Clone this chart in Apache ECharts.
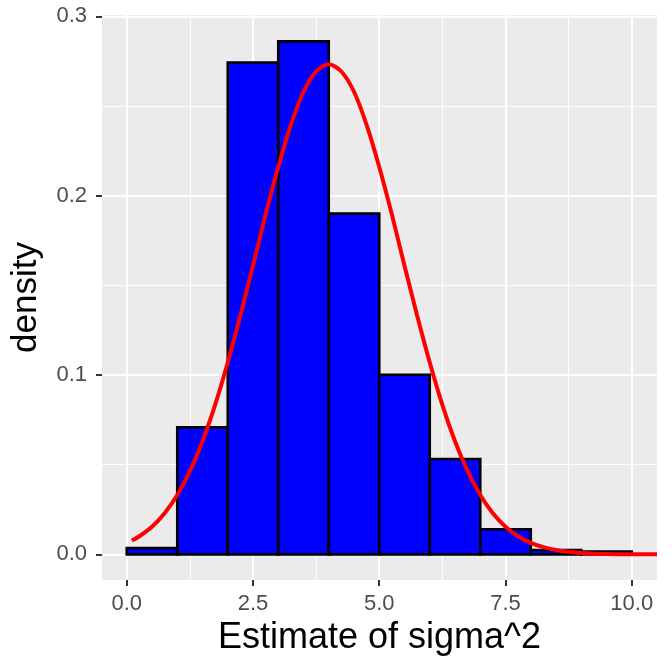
<!DOCTYPE html>
<html>
<head>
<meta charset="utf-8">
<script src="https://cdn.jsdelivr.net/npm/echarts@6/dist/echarts.min.js"></script>
<style>
  html, body { margin: 0; padding: 0; background: #fff; }
  #chart { width: 672px; height: 672px; }
</style>
</head>
<body>
<div id="chart"></div>
<script>
// histogram bins (width 1) and their densities
const binStarts = [0, 1, 2, 3, 4, 5, 6, 7, 8, 9]
const binEnds = [1, 2, 3, 4, 5, 6, 7, 8, 9, 10]
const binDensity = [0.0035, 0.0708, 0.2743, 0.2861, 0.190, 0.1002, 0.0532, 0.0140, 0.0024, 0.0015]

// red density curve
const curveX = [0.1, 0.25, 0.5, 0.75, 1, 1.25, 1.5, 1.75, 2, 2.25, 2.5, 2.75, 3, 3.25, 3.5, 3.75, 4,
  4.25, 4.5, 4.75, 5, 5.25, 5.5, 5.75, 6, 6.25, 6.5, 6.75, 7, 7.25, 7.5, 7.75, 8, 8.25, 8.5, 8.75, 9, 9.5, 10, 10.5]
const curveY = [0.0077, 0.0101, 0.0154, 0.0229, 0.0331, 0.0464, 0.0631, 0.0834, 0.107, 0.1332, 0.161, 0.1895, 0.216, 0.2395, 0.258, 0.2693, 0.2733,
  0.2693, 0.258, 0.2395, 0.216, 0.1895, 0.161, 0.1332, 0.107, 0.0834, 0.0631, 0.0464, 0.0331, 0.0229, 0.0154, 0.0101, 0.0064, 0.0040, 0.0024, 0.0014, 0.0008, 0.0002, 0.0001, 0]

const xTicks = [0, 2.5, 5, 7.5, 10]
const xMinor = [1.25, 3.75, 6.25, 8.75]
const yTicks = [0, 0.1, 0.2, 0.3]
const yMinor = [0.05, 0.15, 0.25]

const X_MIN = -0.49, X_MAX = 10.5
const Y_MIN = -0.0143, Y_MAX = 0.3008
const FONT = '"Liberation Sans", Arial, sans-serif'

const chart = echarts.init(document.getElementById('chart'))

const bars = binStarts.map((s, i) => [s, binEnds[i], binDensity[i]])
const curve = curveX.map((x, i) => [x, curveY[i]])

const option = {
  animation: false,
  grid: {
    left: 102, right: 15, top: 15, bottom: 92,
    outerBoundsMode: 'none', containLabel: false,
    show: true, backgroundColor: '#EBEBEB', borderWidth: 0
  },
  xAxis: [
    {
      type: 'value', min: X_MIN, max: X_MAX,
      name: 'Estimate of sigma^2', nameLocation: 'middle', nameGap: 36,
      nameTextStyle: { fontFamily: FONT, fontSize: 36, color: '#000' },
      axisLine: { show: false, onZero: false },
      axisTick: { show: true, length: 6, customValues: xTicks, lineStyle: { color: '#333', width: 2 } },
      axisLabel: {
        customValues: xTicks, margin: 13, fontFamily: FONT, fontSize: 22, color: '#4D4D4D',
        formatter: (v) => v.toFixed(1)
      },
      splitLine: { show: true, lineStyle: { color: '#fff', width: 2 } }
    },
    {
      type: 'value', min: X_MIN, max: X_MAX, position: 'top',
      axisLine: { show: false, onZero: false },
      axisTick: { show: false, customValues: xMinor },
      axisLabel: { show: false, customValues: xMinor },
      splitLine: { show: true, lineStyle: { color: '#fff', width: 1 } }
    }
  ],
  yAxis: [
    {
      type: 'value', min: Y_MIN, max: Y_MAX,
      name: 'density', nameLocation: 'middle', nameGap: 58,
      nameTextStyle: { fontFamily: FONT, fontSize: 35, color: '#000' },
      axisLine: { show: false, onZero: false },
      axisTick: { show: true, length: 6, customValues: yTicks, lineStyle: { color: '#333', width: 2 } },
      axisLabel: {
        customValues: yTicks, margin: 15, fontFamily: FONT, fontSize: 22, color: '#4D4D4D',
        formatter: (v) => v.toFixed(1)
      },
      splitLine: { show: true, lineStyle: { color: '#fff', width: 2 } }
    },
    {
      type: 'value', min: Y_MIN, max: Y_MAX, position: 'right',
      axisLine: { show: false, onZero: false },
      axisTick: { show: false, customValues: yMinor },
      axisLabel: { show: false, customValues: yMinor },
      splitLine: { show: true, lineStyle: { color: '#fff', width: 1 } }
    }
  ],
  series: [
    {
      type: 'custom',
      xAxisIndex: 0, yAxisIndex: 0,
      data: bars,
      renderItem: (params, api) => {
        const p0 = api.coord([api.value(0), api.value(2)])
        const p1 = api.coord([api.value(1), 0])
        return {
          type: 'rect',
          shape: { x: p0[0], y: p0[1], width: p1[0] - p0[0], height: p1[1] - p0[1] },
          style: { fill: '#0000FF', stroke: '#000', lineWidth: 2.6 }
        }
      },
      z: 2
    },
    {
      type: 'line',
      xAxisIndex: 0, yAxisIndex: 0,
      data: curve,
      showSymbol: false,
      smooth: 0.3,
      lineStyle: { color: '#FF0000', width: 4 },
      z: 3
    }
  ]
}
chart.setOption(option)
</script>
</body>
</html>
